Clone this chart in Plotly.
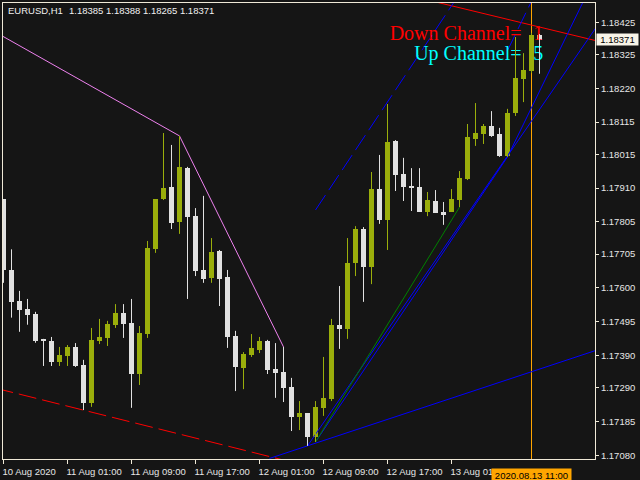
import plotly.graph_objects as go
import pandas as pd

# ---------------- data ----------------
symbol_label = "EURUSD,H1"
ohlc_label = "1.18385 1.18388 1.18265 1.18371"

times = pd.date_range("2020-08-10 17:00", periods=68, freq="h")

opens = [1.17876, 1.17656, 1.17560, 1.17535, 1.17519, 1.17439, 1.17435, 1.17370, 1.17389, 1.17417,
         1.17361, 1.17243, 1.17435, 1.17445, 1.17485, 1.17522, 1.17491, 1.17333, 1.17457, 1.17721,
         1.17876, 1.17914, 1.17805, 1.17972, 1.17823, 1.17656, 1.17631, 1.17715, 1.17634, 1.17451,
         1.17352, 1.17392, 1.17408, 1.17435, 1.17349, 1.17339, 1.17293, 1.17200, 1.17212, 1.17138,
         1.17228, 1.17255, 1.17485, 1.17473, 1.17678, 1.17783, 1.17665, 1.17907, 1.17811, 1.18056,
         1.17954, 1.17917, 1.17914, 1.17836, 1.17870, 1.17836, 1.17836, 1.17873, 1.17938, 1.18062,
         1.18078, 1.18103, 1.18078, 1.18010, 1.18143, 1.18249, 1.18274, 1.18385]
highs = [1.17876, 1.17720, 1.17591, 1.17566, 1.17526, 1.17442, 1.17448, 1.17417, 1.17423, 1.17429,
         1.17377, 1.17476, 1.17504, 1.17498, 1.17550, 1.17550, 1.17566, 1.17482, 1.17746, 1.17876,
         1.18081, 1.18044, 1.18072, 1.17976, 1.17848, 1.17886, 1.17755, 1.17718, 1.17656, 1.17467,
         1.17401, 1.17457, 1.17448, 1.17439, 1.17429, 1.17417, 1.17321, 1.17249, 1.17212, 1.17249,
         1.17386, 1.17504, 1.17606, 1.17755, 1.17792, 1.17789, 1.17960, 1.18013, 1.18171, 1.18059,
         1.18004, 1.17972, 1.17972, 1.17898, 1.17904, 1.17867, 1.17907, 1.17963, 1.18109, 1.18174,
         1.18109, 1.18149, 1.18097, 1.18156, 1.18379, 1.18329, 1.18392, 1.18388]
lows = [1.17616, 1.17508, 1.17464, 1.17486, 1.17430, 1.17358, 1.17358, 1.17358, 1.17358, 1.17355,
        1.17221, 1.17231, 1.17426, 1.17420, 1.17476, 1.17445, 1.17228, 1.17299, 1.17445, 1.17709,
        1.17873, 1.17783, 1.17768, 1.17566, 1.17637, 1.17616, 1.17616, 1.17544, 1.17414, 1.17280,
        1.17286, 1.17386, 1.17398, 1.17333, 1.17259, 1.17246, 1.17156, 1.17159, 1.17110, 1.17122,
        1.17203, 1.17249, 1.17411, 1.17442, 1.17637, 1.17557, 1.17612, 1.17799, 1.17718, 1.17901,
        1.17870, 1.17839, 1.17836, 1.17823, 1.17833, 1.17796, 1.17836, 1.17851, 1.17935, 1.18041,
        1.18047, 1.18069, 1.18007, 1.18007, 1.18134, 1.18177, 1.18267, 1.18265]
closes = [1.17656, 1.17557, 1.17532, 1.17516, 1.17435, 1.17436, 1.17370, 1.17392, 1.17417, 1.17358,
          1.17243, 1.17439, 1.17448, 1.17488, 1.17522, 1.17488, 1.17333, 1.17460, 1.17724, 1.17876,
          1.17910, 1.17802, 1.17976, 1.17820, 1.17653, 1.17628, 1.17712, 1.17628, 1.17448, 1.17355,
          1.17395, 1.17414, 1.17435, 1.17345, 1.17336, 1.17290, 1.17200, 1.17212, 1.17138, 1.17231,
          1.17259, 1.17485, 1.17473, 1.17678, 1.17783, 1.17665, 1.17907, 1.17811, 1.18053, 1.17951,
          1.17914, 1.17910, 1.17836, 1.17873, 1.17833, 1.17827, 1.17876, 1.17941, 1.18069, 1.18081,
          1.18103, 1.18072, 1.18010, 1.18143, 1.18252, 1.18277, 1.18385, 1.18371]

price_ticks = [1.18425, 1.18325, 1.18220, 1.18115, 1.18015, 1.17910, 1.17805,
               1.17705, 1.17600, 1.17495, 1.17390, 1.17290, 1.17185, 1.17080]
time_ticks = ["2020-08-10 17:00", "2020-08-11 01:00", "2020-08-11 09:00", "2020-08-11 17:00",
              "2020-08-12 01:00", "2020-08-12 09:00", "2020-08-12 17:00", "2020-08-13 01:00"]
time_tick_labels = ["10 Aug 2020", "11 Aug 01:00", "11 Aug 09:00", "11 Aug 17:00",
                    "12 Aug 01:00", "12 Aug 09:00", "12 Aug 17:00", "13 Aug 01:00"]

# indicator / object lines (time, price)
zigzag_t = ["2020-08-10 16:00", "2020-08-11 15:00", "2020-08-12 04:00"]
zigzag_p = [1.18394, 1.18072, 1.17417]
down_low_t = ["2020-08-10 16:00", "2020-08-12 04:00"]
down_low_p = [1.17289, 1.17066]
down_up_t = ["2020-08-12 21:00", "2020-08-13 19:00"]
down_up_p = [1.18500, 1.18368]
up_base_t = ["2020-08-12 02:15", "2020-08-13 20:00"]
up_base_p = [1.17071, 1.17414]
up_main_t = ["2020-08-12 07:00", "2020-08-13 20:00"]
up_main_p = [1.17110, 1.18442]
up_fast_t = ["2020-08-12 08:00", "2020-08-13 08:00", "2020-08-13 18:00"]
up_fast_p = [1.17122, 1.18007, 1.18516]
up_fast_top_t = ["2020-08-13 08:00", "2020-08-13 12:00"]
up_fast_top_p = [1.18337, 1.18541]
up_main_top_t = ["2020-08-12 08:00", "2020-08-13 02:00"]
up_main_top_p = [1.17842, 1.18513]
green_t = ["2020-08-12 08:00", "2020-08-13 02:00"]
green_p = [1.17122, 1.17851]

cursor_time = "2020-08-13 11:00"
cursor_label = "2020.08.13 11:00"
bid_price = 1.18371
down_count = "1"
up_count = "5"

# ---------------- styles ----------------
BG = "#151515"
FRAME = "#efe9d7"
TICK_C = "#e6e6e6"
BULL = "#9aae0b"
BEAR = "#e1e1e1"
AX_FONT = "Liberation Sans, Arial, sans-serif"
HOUR = pd.Timedelta(hours=1)

fig = go.Figure()


def add_line(tx, py, color, dash="solid"):
    fig.add_trace(go.Scatter(x=pd.to_datetime(tx), y=py, mode="lines",
                             line=dict(color=color, width=1, dash=dash),
                             hoverinfo="skip"))


add_line(zigzag_t, zigzag_p, "#ee82ee")
add_line(down_low_t, down_low_p, "#ff0000", "18px,6px")
add_line(down_up_t, down_up_p, "#ff0000")
add_line(up_base_t, up_base_p, "#0000ff")
add_line(up_main_t, up_main_p, "#0000ff")
add_line(up_fast_t, up_fast_p, "#0000ff")
add_line(up_fast_top_t, up_fast_top_p, "#0000ff", "18px,6px")
add_line(up_main_top_t, up_main_top_p, "#0000ff", "18px,6px")
add_line(green_t, green_p, "#008000")

# channel labels (under the candles, like the chart in the foreground)
t_text_end = times[0] + 64.75 * HOUR
t_num = times[0] + 66.85 * HOUR
fig.add_trace(go.Scatter(x=[t_text_end, t_text_end], y=[1.18386, 1.18322], mode="text",
                         text=["Down Channel=", "Up Channel="], textposition="middle left",
                         textfont=dict(family="Liberation Serif, Times New Roman, serif", size=20,
                                       color=["#ff0000", "#00ffff"]),
                         hoverinfo="skip"))
fig.add_trace(go.Scatter(x=[t_num, t_num], y=[1.18386, 1.18322], mode="text",
                         text=[down_count, up_count], textposition="middle center",
                         textfont=dict(family="Liberation Serif, Times New Roman, serif", size=20,
                                       color=["#ff0000", "#00ffff"]),
                         hoverinfo="skip"))

# candles
bull = [c >= o for o, c in zip(opens, closes)]
for is_bull, col in ((True, BULL), (False, BEAR)):
    wx, wy = [], []
    for t, h, l, b in zip(times, highs, lows, bull):
        if b == is_bull:
            wx += [t, t, None]
            wy += [l, h, None]
    fig.add_trace(go.Scatter(x=wx, y=wy, mode="lines", line=dict(color=col, width=1),
                             hoverinfo="skip"))

body_base = [min(o, c) for o, c in zip(opens, closes)]
body_len = [max(abs(c - o), 0.00003) for o, c in zip(opens, closes)]
fig.add_trace(go.Bar(x=times, y=body_len, base=body_base, width=5 / 8 * 3600000,
                     marker=dict(color=[BULL if b else BEAR for b in bull], line=dict(width=0)),
                     hoverinfo="skip"))

fig.add_shape(type="line", x0=cursor_time, x1=cursor_time, xref="x", yref="paper", y0=0, y1=1,
              line=dict(color="#ffa500", width=1), layer="below")

x0 = times[0] - 0.0625 * HOUR
x1 = times[0] + 73.9375 * HOUR

fig.update_layout(
    template="none",
    width=640, height=480,
    margin=dict(l=3, r=45, t=3, b=21, pad=0),
    paper_bgcolor=BG, plot_bgcolor=BG,
    showlegend=False, barmode="overlay", bargap=0,
    xaxis=dict(type="date", range=[x0, x1], showgrid=False, zeroline=False,
               showline=True, mirror=True, linecolor=FRAME, linewidth=1,
               ticks="outside", ticklen=4, tickcolor=FRAME, tickwidth=1,
               tickvals=pd.to_datetime(time_ticks), ticktext=time_tick_labels,
               ticklabelposition="outside right", tickangle=0,
               ticklabelstandoff=4, ticklabelshift=-2,
               tickfont=dict(family=AX_FONT, size=9.5, color=TICK_C),
               automargin=False, fixedrange=True),
    yaxis=dict(side="right", range=[1.170692, 1.184846], showgrid=False, zeroline=False,
               showline=True, mirror=True, linecolor=FRAME, linewidth=1,
               ticks="outside", ticklen=3, tickcolor=FRAME, tickwidth=1,
               tickvals=price_ticks, ticktext=[f"{v:.5f}" for v in price_ticks],
               tickfont=dict(family=AX_FONT, size=9.5, color=TICK_C),
               automargin=False, fixedrange=True),
)

fig.add_annotation(x=(6.3 - 3) / 592, y=(459 - 10.7) / 456, xref="paper", yref="paper",
                   xanchor="left", yanchor="middle", showarrow=False, text=symbol_label,
                   font=dict(family=AX_FONT, size=9.5, color="#f0f0f0"))
fig.add_annotation(x=(66.7 - 3) / 592, y=(459 - 10.7) / 456, xref="paper", yref="paper",
                   xanchor="left", yanchor="middle", showarrow=False, text=ohlc_label,
                   font=dict(family=AX_FONT, size=9.5, color="#f0f0f0"))
fig.add_annotation(x=1, y=bid_price, xref="paper", yref="y", xanchor="left", yanchor="middle",
                   xshift=1, showarrow=False, text=f"{bid_price:.5f}", bgcolor="#f8f4e8",
                   width=39, height=9, borderpad=1,
                   font=dict(family=AX_FONT, size=9.5, color="#000000"))
fig.add_annotation(x=cursor_time, y=0, xref="x", yref="paper", xanchor="center", yanchor="top",
                   yshift=-9, showarrow=False, text=cursor_label, bgcolor="#ffa500",
                   width=77, height=11, borderpad=1,
                   font=dict(family=AX_FONT, size=9.5, color="#000000"))

fig.write_html("out.html", config={"displayModeBar": False},
               post_script="document.body.style.margin='0';document.body.style.overflow='hidden';")
